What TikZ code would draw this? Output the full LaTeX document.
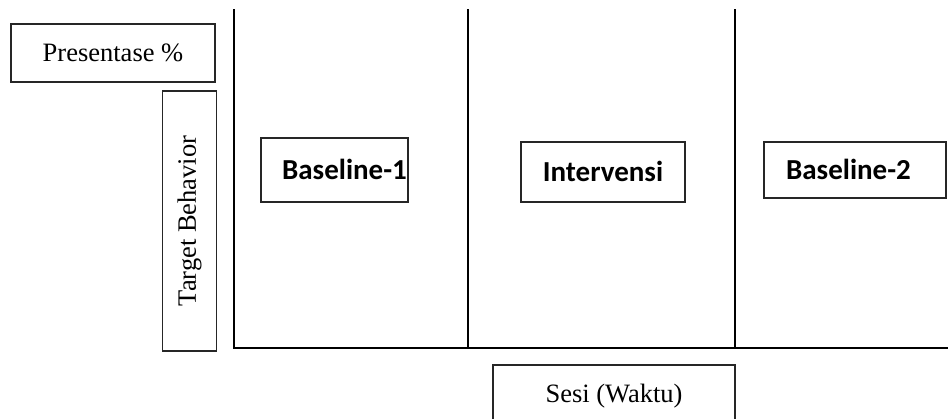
\documentclass[tikz,border=0pt]{standalone}
\usepackage{fontspec}
\setmainfont{Liberation Serif}
\newfontfamily\labelfont{Carlito}
\begin{document}
\begin{tikzpicture}[x=1pt,y=-1pt,
  box/.style={draw=black!85, line width=1.2pt, inner sep=0pt, rectangle},
  plain/.style={font=\fontsize{26.5}{30}\selectfont},
  phase/.style={box, font=\labelfont\bfseries\fontsize{29}{32}\selectfont},
  axis/.style={line width=2pt, line cap=rect}]
  \useasboundingbox (0,0) rectangle (948,418);

  % axis corner and ends
  \coordinate (origin) at (234,348);
  \coordinate (ytop) at (234,10);
  \coordinate (xend) at (950,348);
  \coordinate (d1top) at (468,10);
  \coordinate (d1bot) at (468,348);
  \coordinate (d2top) at (735,10);
  \coordinate (d2bot) at (735,348);

  \draw[axis] (ytop) -- (origin) -- (xend);
  \draw[axis] (d1top) -- (d1bot);
  \draw[axis] (d2top) -- (d2bot);

  % axis labels
  \node[box, plain, minimum width=204pt, minimum height=58pt] (pct) at (113,53) {Presentase \%};
  \node[box, plain, minimum width=54pt, minimum height=260pt] (tb) at (189.5,221) {};
  \node[plain, rotate=90] (tbtext) at (tb.center) {Target Behavior};
  \node[box, plain, minimum width=242pt, minimum height=62pt] (sesi) at (614,396) {\raisebox{5pt}{Sesi (Waktu)}};

  % phase labels
  \node[phase, minimum width=147pt, minimum height=64pt] (b1) at (334.5,170) {\raisebox{2pt}{\hspace*{20pt}Baseline-1}};
  \node[phase, minimum width=164pt, minimum height=60pt] (iv) at (603,172) {\raisebox{1pt}{Intervensi}};
  \node[phase, minimum width=182pt, minimum height=56pt] (b2) at (855,170) {\raisebox{1pt}{Baseline-2\hspace*{13pt}}};
\end{tikzpicture}
\end{document}
